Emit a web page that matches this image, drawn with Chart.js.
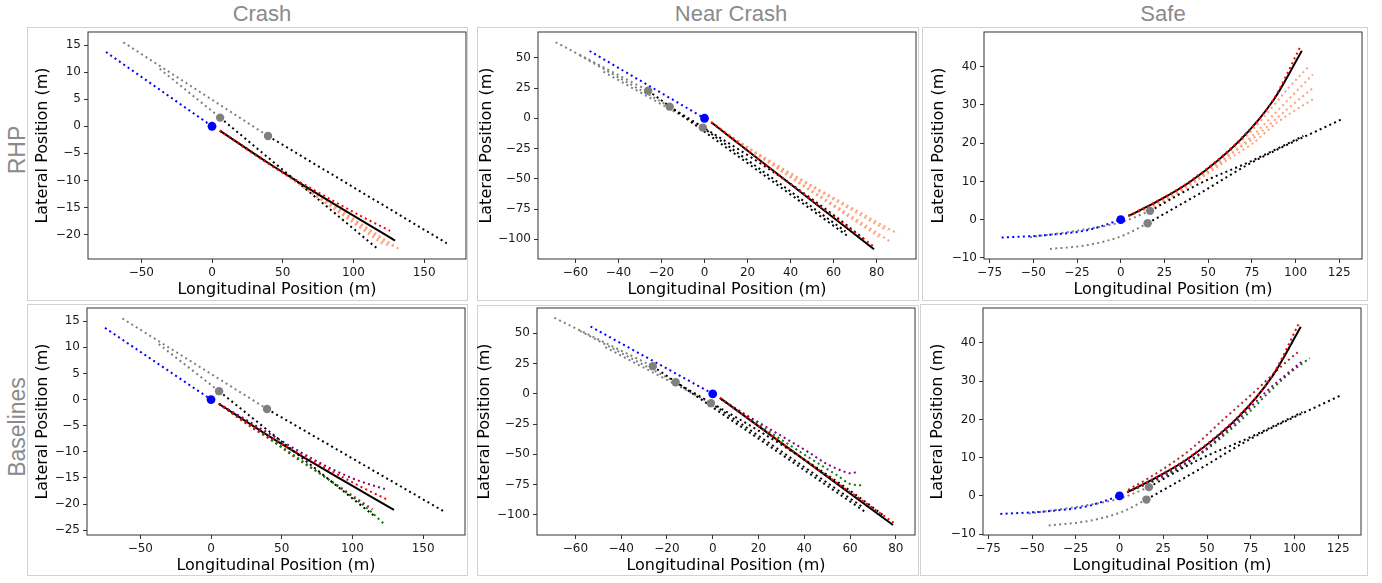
<!DOCTYPE html>
<html>
<head>
<meta charset="utf-8">
<title>Trajectory predictions</title>
<script src="https://cdn.jsdelivr.net/npm/chart.js@4.4.0/dist/chart.umd.min.js"></script>
<style>
    body { margin: 0; background: #fff; width: 1382px; height: 583px; position: relative; overflow: hidden; font-family: "Liberation Sans", Arial, sans-serif; }
    .box { position: absolute; border: 1px solid #d2d2d2; box-sizing: border-box; }
    .col { position: absolute; top: 0; height: 28px; line-height: 28px; font-size: 22px; color: #8a8a8a; transform: translateX(-50%); white-space: nowrap; }
    .row { position: absolute; font-size: 23px; color: #8a8a8a; transform: translate(-50%, -50%) rotate(-90deg); white-space: nowrap; }
    canvas { position: absolute; }
</style>
</head>
<body>
<div class="box" style="left:27px;top:27px;width:441px;height:274px"></div>
<div class="box" style="left:477px;top:27px;width:442px;height:274px"></div>
<div class="box" style="left:922px;top:27px;width:446px;height:274px"></div>
<div class="box" style="left:27px;top:304px;width:441px;height:272px"></div>
<div class="box" style="left:477px;top:305px;width:442px;height:271px"></div>
<div class="box" style="left:920px;top:304px;width:448px;height:272px"></div>

<div class="col" style="left:262px">Crash</div>
<div class="col" style="left:731px">Near Crash</div>
<div class="col" style="left:1163px">Safe</div>
<div class="row" style="left:17px;top:150px">RHP</div>
<div class="row" style="left:17px;top:427px">Baselines</div>

<canvas id="crashRhp" width="458" height="282" style="left:18px;top:22px"></canvas>
<canvas id="nearRhp" width="458" height="282" style="left:468.3px;top:22px"></canvas>
<canvas id="safeRhp" width="458" height="282" style="left:914px;top:22px"></canvas>
<canvas id="crashBase" width="458" height="282" style="left:17.3px;top:298.3px"></canvas>
<canvas id="nearBase" width="458" height="282" style="left:467.3px;top:298.3px"></canvas>
<canvas id="safeBase" width="458" height="282" style="left:913.3px;top:298.3px"></canvas>

<script>
// ticks
const crashXTicks = [-50, 0, 50, 100, 150];
const crashYTicksRhp = [-20, -15, -10, -5, 0, 5, 10, 15];
const crashYTicksBase = [-25, -20, -15, -10, -5, 0, 5, 10, 15];
const nearXTicks = [-60, -40, -20, 0, 20, 40, 60, 80];
const nearYTicks = [-100, -75, -50, -25, 0, 25, 50];
const safeXTicks = [-75, -50, -25, 0, 25, 50, 75, 100, 125];
const safeYTicks = [-10, 0, 10, 20, 30, 40];

// axis limits
const crashRhpXLim = [-87.7, 179.6], crashRhpYLim = [-24.5, 17.4];
const nearRhpXLim = [-77.4, 98.3], nearRhpYLim = [-116.3, 71.3];
const safeRhpXLim = [-78.2, 138], safeRhpYLim = [-10.3, 49.1];
const crashBaseXLim = [-87.7, 179.6], crashBaseYLim = [-25.9, 17.5];
const nearBaseXLim = [-76.8, 88.4], nearBaseYLim = [-116.6, 70.9];
const safeBaseXLim = [-78, 138], safeBaseYLim = [-10.2, 49.1];

const egoNow = [[0, 0]];

// crash scenario, [x, y] in metres
const crashEgoPast = [[-75, 13.7], [0, 0]];
const crashOtherPastA = [[-37, 10.6], [5.7, 1.6]];
const crashOtherPastB = [[-62.7, 15.5], [39.6, -1.8]];
const crashOtherFutA = [[5.7, 1.6], [116.5, -22.5]];
const crashOtherFutB = [[39.6, -1.8], [166, -21.6]];
const crashEgoTruth = [[5.5, -0.8], [41, -7.1], [67, -11.0], [104.7, -16.5], [125.9, -19.3]];
const crashEgoPlan = [[5.5, -0.8], [38.7, -6.6], [74, -12.4], [129.4, -21.1]];
const crashOthersNow = [[5.7, 1.6], [39.6, -1.8]];
const crashRhpPred1 = [[5.5, -0.8], [55, -9.3], [133, -22.8]];
const crashRhpPred2 = [[5.5, -0.8], [57, -9.7], [129, -22.3]];
const crashRhpPred3 = [[5.5, -0.8], [59, -10.2], [125, -22.1]];
const crashRhpPred4 = [[5.5, -0.8], [61, -10.6], [121, -21.8]];
const crashBasePurple = [[5.5, -0.8], [38, -6.0], [60.4, -9.6], [86.3, -13.4], [105.2, -15.6], [122.9, -17.1]];
const crashBaseBrown = [[5.5, -0.8], [27.4, -5.1], [43.9, -8.0], [58, -10.8], [81.7, -15.0], [114.2, -21.0]];
const crashBaseGreen = [[5.5, -0.8], [40, -7.2], [70, -12.8], [95.8, -17.8], [110, -20.7], [122.4, -23.8]];

// near crash scenario
const nearEgoPast = [[-53.4, 55.6], [0, 0]];
const nearOtherPastA = [[-69.2, 62.8], [-26.2, 22.8]];
const nearOtherPastB = [[-58, 52], [-16.2, 9.6]];
const nearOtherPastC = [[-47, 38.5], [-0.8, -7.7]];
const nearOtherFutA = [[-26.2, 22.8], [66.5, -97.3]];
const nearOtherFutB = [[-16.2, 9.6], [30, -42], [60, -80], [75, -101]];
const nearOtherFutC = [[-0.8, -7.7], [65.5, -93.5]];
const nearEgoTruth = [[3.1, -3.3], [40, -54.3], [79.5, -107]];
const nearEgoPlan = [[3.1, -3.3], [78.8, -108.3]];
const nearOthersNow = [[-26.2, 22.8], [-16.2, 9.6], [-0.8, -7.7]];
const nearRhpPred1 = [[3.1, -3.3], [20.9, -24.8], [89.8, -95.6]];
const nearRhpPred2 = [[3.1, -3.3], [22, -26.5], [85, -93]];
const nearRhpPred3 = [[3.1, -3.3], [24, -29], [87.1, -102.8]];
const nearRhpPred4 = [[3.1, -3.3], [26, -32], [82, -99]];
const nearBasePurple = [[3.4, -4], [13.1, -15.7], [27.7, -32.2], [42.2, -48.6], [49.5, -57.5], [56.8, -63.8], [60.4, -65.7], [63.3, -64.3]];
const nearBaseGreen = [[3.4, -4], [13, -16.5], [27.7, -35], [42.2, -52.8], [53.9, -66.7], [61.1, -75], [66.2, -75.5]];

// safe scenario
const safeEgoPast = [[-68.1, -4.7], [-41.4, -4.0], [-18.5, -2.7], [-7.1, -1.1], [0, 0]];
const safeOtherPastA = [[-51.9, -4.6], [-22.3, -2.7], [0.6, -0.6], [16.8, 2.3]];
const safeOtherPastB = [[-40.5, -7.7], [-18.5, -6.6], [0.6, -4.3], [15.4, -0.95]];
const safeOtherFutA = [[16.8, 2.3], [45.4, 9.5], [74, 15.2], [104.5, 21.9]];
const safeOtherFutB = [[15.4, -0.95], [45.4, 6.9], [74, 14.7], [127.4, 26.5]];
const safeEgoTruth = [[4.4, 1.0], [20.6, 4.8], [39.7, 10.1], [68.3, 21], [87.4, 31.5], [103, 45.5]];
const safeEgoPlan = [[4.4, 0.97], [20.6, 4.7], [39.7, 9.9], [68.3, 20.8], [87.4, 31.3], [103.6, 44.2]];
const safeOthersNow = [[16.8, 2.3], [15.4, -0.95]];
const safeRhpPred1 = [[4.4, 1.0], [25, 5.4], [50, 13.2], [75, 23.3], [97, 35.0], [107.4, 40.0]];
const safeRhpPred2 = [[4.4, 1.0], [25, 5.2], [50, 12.6], [75, 21.8], [95, 31.0], [109.9, 38.0]];
const safeRhpPred3 = [[4.4, 1.0], [25, 5.0], [45, 11.0], [60, 16.2], [75, 21.0], [95, 28.8], [110, 34.5]];
const safeRhpPred4 = [[4.4, 1.0], [25, 4.8], [45, 10.6], [60, 15.3], [75, 19.8], [90, 25.6], [110.6, 31.7]];
const safeBaseBrown = [[4.9, 1.6], [20, 5.6], [40.2, 12.0], [59.2, 19.9], [78.3, 27.7], [93.5, 34.3], [103, 38.0]];
const safeBasePurple = [[4.4, 1.0], [25, 5.3], [45.9, 11.1], [64.9, 18.6], [84, 27.3], [104.9, 35.4]];
const safeBaseGreen = [[4.4, 1.0], [25, 5.0], [45, 10.5], [68.7, 19.5], [85.9, 27.3], [97.3, 32.1], [108.7, 36.0]];

const SALMON = '#ffa07a';

function toXY(arr) {
    return arr.map(p => ({ x: p[0], y: p[1] }));
}

function line(arr, color, dotted, width) {
    return {
        data: toXY(arr),
        showLine: true,
        borderColor: color,
        borderWidth: width || 2,
        borderDash: dotted ? [2, 3.3] : [],
        borderCapStyle: 'butt',
        cubicInterpolationMode: 'monotone',
        pointRadius: 0,
        pointHoverRadius: 0
    };
}

function dots(arr, color, r) {
    return {
        data: toXY(arr),
        showLine: false,
        pointRadius: r,
        pointHoverRadius: r,
        backgroundColor: color,
        borderWidth: 0
    };
}

function scene(s, preds) {
    // bottom to top
    const list = [];
    preds.forEach(p => list.push(line(p[0], p[1], true, 2)));
    s.otherPast.forEach(p => list.push(line(p, '#808080', true, 2)));
    list.push(line(s.egoPast, '#0000ff', true, 2));
    s.otherFut.forEach(p => list.push(line(p, '#000000', true, 2)));
    list.push(line(s.plan, '#000000', false, 2));
    list.push(line(s.truth, '#ff0000', true, 2));
    list.push(dots(s.othersNow, '#808080', 4.2));
    list.push(dots(egoNow, '#0000ff', 4.4));
    list.forEach((d, i) => { d.order = list.length - i; });
    return list;
}

const crashScene = { egoPast: crashEgoPast, otherPast: [crashOtherPastA, crashOtherPastB], otherFut: [crashOtherFutA, crashOtherFutB], truth: crashEgoTruth, plan: crashEgoPlan, othersNow: crashOthersNow };
const nearScene = { egoPast: nearEgoPast, otherPast: [nearOtherPastA, nearOtherPastB, nearOtherPastC], otherFut: [nearOtherFutA, nearOtherFutB, nearOtherFutC], truth: nearEgoTruth, plan: nearEgoPlan, othersNow: nearOthersNow };
const safeScene = { egoPast: safeEgoPast, otherPast: [safeOtherPastA, safeOtherPastB], otherFut: [safeOtherFutA, safeOtherFutB], truth: safeEgoTruth, plan: safeEgoPlan, othersNow: safeOthersNow };

const frame = {
    id: 'frame',
    afterDraw(chart) {
        const a = chart.chartArea, ctx = chart.ctx;
        ctx.save();
        ctx.strokeStyle = '#333';
        ctx.lineWidth = 1;
        ctx.strokeRect(a.left, a.top, a.right - a.left, a.bottom - a.top);
        ctx.restore();
    }
};

function fmt(v) {
    return String(v).replace('-', '\u2212');
}

function makeChart(id, datasets, xLim, yLim, xTicks, yTicks, yTitlePad) {
    const axisBase = {
        type: 'linear',
        grid: { display: true, drawOnChartArea: false, drawTicks: true, tickLength: 4, color: '#333' },
        border: { display: false },
        ticks: { color: '#1a1a1a', font: { size: 12 }, padding: 3, callback: fmt }
    };
    new Chart(document.getElementById(id), {
        type: 'scatter',
        data: { datasets: datasets },
        options: {
            responsive: false,
            animation: false,
            events: [],
            layout: { padding: { left: 0, top: 10, right: 10, bottom: 0 } },
            plugins: { legend: { display: false }, tooltip: { enabled: false } },
            scales: {
                x: Object.assign({}, axisBase, {
                    min: xLim[0], max: xLim[1],
                    title: { display: true, text: 'Longitudinal Position (m)', color: '#000', font: { size: 16 }, padding: { top: 0, bottom: 4.4 } },
                    afterBuildTicks: s => { s.ticks = xTicks.map(v => ({ value: v })); },
                    afterFit: s => { s.height = 45; s.paddingLeft = s.paddingRight = 0; }
                }),
                y: Object.assign({}, axisBase, {
                    min: yLim[0], max: yLim[1],
                    title: { display: true, text: 'Lateral Position (m)', color: '#000', font: { size: 16 }, padding: { top: yTitlePad, bottom: 0 } },
                    afterBuildTicks: s => { s.ticks = yTicks.map(v => ({ value: v })); },
                    afterFit: s => { s.width = 70; s.paddingTop = s.paddingBottom = 0; }
                })
            }
        },
        plugins: [frame]
    });
}

Chart.defaults.font.family = '"DejaVu Sans", sans-serif';

makeChart('crashRhp', scene(crashScene, [[crashRhpPred1, SALMON], [crashRhpPred2, SALMON], [crashRhpPred3, SALMON], [crashRhpPred4, SALMON]]),
    crashRhpXLim, crashRhpYLim, crashXTicks, crashYTicksRhp, 15.4);
makeChart('nearRhp', scene(nearScene, [[nearRhpPred1, SALMON], [nearRhpPred2, SALMON], [nearRhpPred3, SALMON], [nearRhpPred4, SALMON]]),
    nearRhpXLim, nearRhpYLim, nearXTicks, nearYTicks, 8.8);
makeChart('safeRhp', scene(safeScene, [[safeRhpPred1, SALMON], [safeRhpPred2, SALMON], [safeRhpPred3, SALMON], [safeRhpPred4, SALMON]]),
    safeRhpXLim, safeRhpYLim, safeXTicks, safeYTicks, 15.7);
makeChart('crashBase', scene(crashScene, [[crashBaseBrown, '#a52a2a'], [crashBaseGreen, '#008000'], [crashBasePurple, '#800080']]),
    crashBaseXLim, crashBaseYLim, crashXTicks, crashYTicksBase, 15.8);
makeChart('nearBase', scene(nearScene, [[nearBaseGreen, '#008000'], [nearBasePurple, '#800080']]),
    nearBaseXLim, nearBaseYLim, nearXTicks, nearYTicks, 8.1);
makeChart('safeBase', scene(safeScene, [[safeBaseBrown, '#a52a2a'], [safeBaseGreen, '#008000'], [safeBasePurple, '#800080']]),
    safeBaseXLim, safeBaseYLim, safeXTicks, safeYTicks, 15.4);
</script>
</body>
</html>
